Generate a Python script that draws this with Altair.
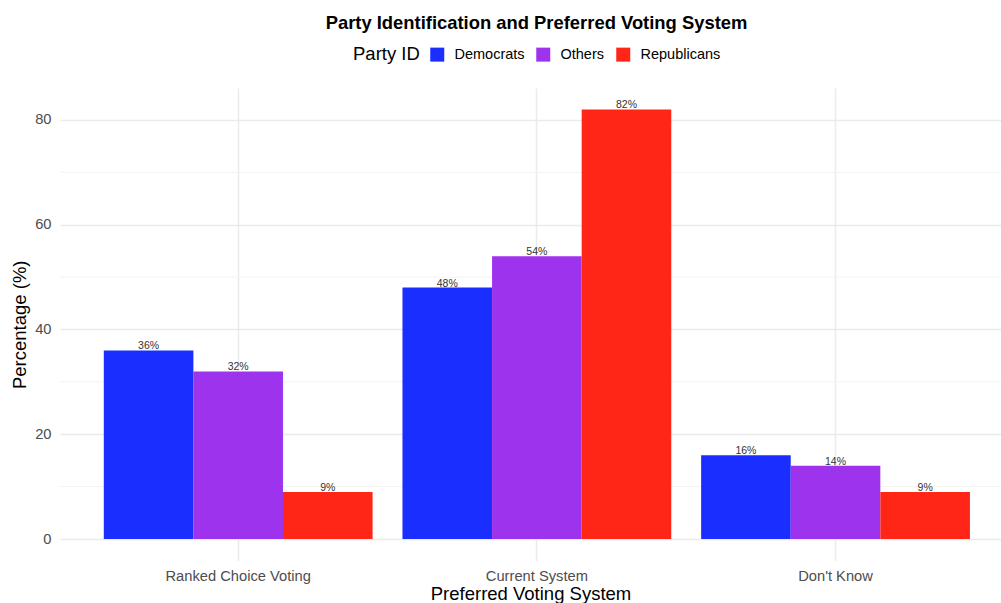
import altair as alt
import pandas as pd

systems = ["Ranked Choice Voting", "Current System", "Don't Know"]
parties = ["Democrats", "Others", "Republicans"]
democrats = [36, 48, 16]
others = [32, 54, 14]
republicans = [9, 82, 9]
colors = ["#1A2EFF", "#9E33EE", "#FF2618"]
minor_ticks = [10, 30, 50, 70]
major_ticks = [0, 20, 40, 60, 80]

rows = []
for p, vals in zip(parties, [democrats, others, republicans]):
    for s, v in zip(systems, vals):
        rows.append({"system": s, "party": p, "value": v, "label": f"{v}%"})
df = pd.DataFrame(rows)
minor_df = pd.DataFrame({"v": minor_ticks})

FONT = "Liberation Sans"
W, H = 941, 472.5

yscale = alt.Scale(domain=[-4.1, 86.1], nice=False, zero=False)
xscale = alt.Scale(paddingInner=0.1, paddingOuter=0.1253, align=0.585)

y_axis = alt.Axis(title="Percentage (%)", values=major_ticks, grid=True,
                  gridColor="#ebebeb", gridWidth=1.5, domain=False, ticks=False,
                  labelFontSize=14.7, labelColor="#4d4d4d", labelPadding=9,
                  titleFontSize=18.5, titleFontWeight="normal", titleColor="#000000",
                  titlePadding=5, labelFont=FONT, titleFont=FONT)

minor = alt.Chart(minor_df).mark_rule(color="#f3f3f3", strokeWidth=1).encode(
    y=alt.Y("v:Q", scale=yscale, axis=y_axis, title="Percentage (%)")
)

base = alt.Chart(df).encode(
    x=alt.X("system:N", sort=systems, scale=xscale,
            axis=alt.Axis(title="Preferred Voting System", labelAngle=0, grid=True,
                          gridColor="#ebebeb", gridWidth=1.5, domain=False, ticks=False,
                          labelFontSize=14.7, labelColor="#4d4d4d", labelPadding=8,
                          titleFontSize=18.5, titleFontWeight="normal", titleColor="#000000",
                          titlePadding=1, labelFont=FONT, titleFont=FONT)),
    xOffset=alt.XOffset("party:N", sort=parties,
                        scale=alt.Scale(paddingInner=0, paddingOuter=0)),
    y=alt.Y("value:Q", scale=yscale, axis=y_axis, title="Percentage (%)"),
)

bars = base.mark_bar().encode(
    color=alt.Color("party:N", sort=parties,
                    scale=alt.Scale(domain=parties, range=colors),
                    legend=alt.Legend(title="Party ID", orient="none", direction="horizontal",
                                      legendX=293, legendY=-41, titleOrient="left",
                                      titleFontSize=18.5, titleFontWeight="normal",
                                      titleColor="#000000", titleFont=FONT, titlePadding=10,
                                      labelFontSize=14.5, labelFont=FONT, labelColor="#000000",
                                      symbolType="square", symbolSize=196, symbolStrokeWidth=0,
                                      symbolOpacity=1, labelOffset=10, columnPadding=11))
)

text = base.mark_text(baseline="bottom", dy=1, fontSize=10.5, color="#333333", font=FONT).encode(
    text="label:N"
)

chart = alt.layer(minor, bars, text).properties(
    width=W, height=H,
    title=alt.TitleParams("Party Identification and Preferred Voting System", fontSize=18.4,
                          fontWeight="bold", font=FONT, anchor="middle", frame="group",
                          color="#000000", offset=15, dx=6),
    autosize=alt.AutoSizeParams(type="none"),
    padding={"left": 60, "top": 88, "right": 0, "bottom": 43},
).configure(background="white").configure_view(stroke="transparent", strokeWidth=0)

chart.save("out.html", embed_options={"renderer": "svg", "actions": False})
